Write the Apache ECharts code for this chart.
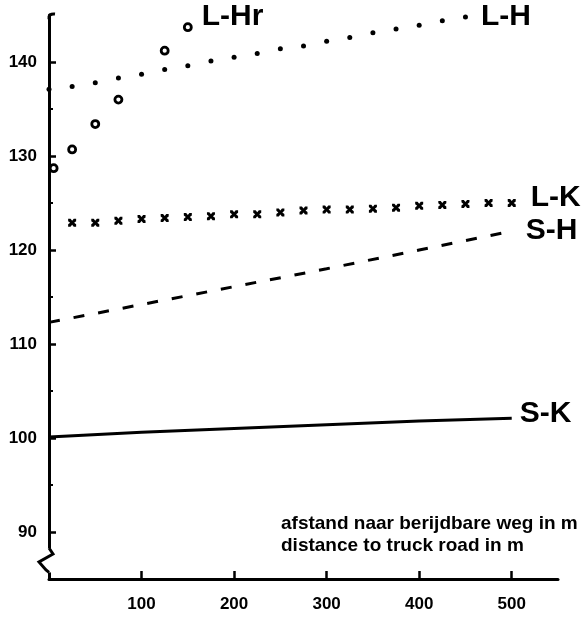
<!DOCTYPE html>
<html>
<head>
<meta charset="utf-8">
<title>afstand naar berijdbare weg</title>
<script src="https://cdn.jsdelivr.net/npm/echarts@6.0.0/dist/echarts.min.js"></script>
<style>
	html, body { margin: 0; padding: 0; background: #fff; }
	#chart { width: 584px; height: 617px; }
</style>
</head>
<body>
<div id="chart"></div>
<script>
// values: distance (m) against level
var lhDist  = [0, 25, 50, 75, 100, 125, 150, 175, 200, 225, 250, 275, 300, 325, 350, 375, 400, 425, 450];
var lhVal   = [137.1, 137.4, 137.8, 138.3, 138.7, 139.2, 139.6, 140.1, 140.5, 140.9, 141.4, 141.7, 142.2, 142.6, 143.1, 143.5, 143.9, 144.4, 144.8];

var lhrDist = [5, 25, 50, 75, 125, 150];
var lhrVal  = [128.7, 130.7, 133.4, 136.0, 141.2, 143.7];

var lkDist  = [25, 50, 75, 100, 125, 150, 175, 200, 225, 250, 275, 300, 325, 350, 375, 400, 425, 450, 475, 500];
var lkVal   = [122.9, 122.9, 123.1, 123.3, 123.4, 123.5, 123.6, 123.8, 123.8, 124.0, 124.2, 124.3, 124.3, 124.4, 124.5, 124.7, 124.8, 124.9, 125.0, 125.0];

var shDist  = [0, 100, 200, 300, 400, 500];
var shVal   = [112.3, 114.2, 116.1, 118.0, 120.0, 122.0];

var skDist  = [0, 100, 200, 300, 400, 500];
var skVal   = [100.1, 100.6, 101.0, 101.4, 101.8, 102.1];

var xTicks  = [100, 200, 300, 400, 500];
var yMajor  = [90, 100, 110, 120, 130, 140];
var yMinor  = [95, 105, 115, 125, 135];

var INK = '#000';
var crossPath = 'path://M0,0 L3,0 L5,2.5 L7,0 L10,0 L10,3 L7.5,5 L10,7 L10,10 L7,10 L5,7.5 L3,10 L0,10 L0,7 L2.5,5 L0,3 Z';

// name label for a curve
function nameLabel(text, dist, offset){
	return {
		show: true,
		position: 'right',
		distance: dist,
		offset: offset || [0, 0],
		formatter: text,
		color: INK,
		opacity: 1,
		fontFamily: 'Liberation Sans',
		fontWeight: 'bold',
		fontSize: 30
	};
}

// pairs of [x, y]; last point carries the curve name
function toPoints(xs, ys, label){
	var pts = [];
	for(var i = 0; i < xs.length; i++){
		if(i == xs.length - 1 && label){
			pts.push({value: [xs[i], ys[i]], label: label});
		} else {
			pts.push([xs[i], ys[i]]);
		}
	}
	return pts;
}

var tickFont = {color: INK, fontFamily: 'Liberation Sans', fontWeight: 'bold', fontSize: 17};

var chart = echarts.init(document.getElementById('chart'));

var option = {
	animation: false,
	backgroundColor: '#fff',
	grid: {left: 49, right: 26, top: 15, bottom: 38, containLabel: false, outerBoundsMode: 'none'},
	xAxis: {
		type: 'value',
		min: 0,
		max: 550,
		axisLine: {lineStyle: {color: INK, width: 3}},
		axisTick: {inside: true, length: 8, customValues: xTicks, lineStyle: {color: INK, width: 2.5}},
		axisLabel: Object.assign({customValues: xTicks, margin: 17}, tickFont),
		splitLine: {show: false}
	},
	yAxis: [{
		type: 'value',
		min: 85,
		max: 145,
		axisLine: {show: true, lineStyle: {color: INK, width: 3}},
		axisTick: {show: true, inside: true, length: 7, customValues: yMajor, lineStyle: {color: INK, width: 2.5}},
		axisLabel: Object.assign({customValues: yMajor, margin: 12}, tickFont),
		splitLine: {show: false}
	}, {
		// short ticks at the half steps
		type: 'value',
		min: 85,
		max: 145,
		position: 'left',
		axisLine: {show: false},
		axisTick: {show: true, inside: true, length: 4, customValues: yMinor, lineStyle: {color: INK, width: 2}},
		axisLabel: {show: false},
		splitLine: {show: false}
	}],
	series: [{
		name: 'L-H',
		type: 'scatter',
		symbol: 'circle',
		symbolSize: 5,
		itemStyle: {color: INK, opacity: 1},
		data: toPoints(lhDist, lhVal, nameLabel('L-H', 13))
	}, {
		name: 'L-Hr',
		type: 'scatter',
		symbol: 'circle',
		symbolSize: 7,
		itemStyle: {color: '#fff', borderColor: INK, borderWidth: 2.8, opacity: 1},
		data: toPoints(lhrDist, lhrVal, nameLabel('L-Hr', 9, [0, -10]))
	}, {
		name: 'L-K',
		type: 'scatter',
		symbol: crossPath,
		symbolSize: 8,
		itemStyle: {color: INK, opacity: 1},
		data: toPoints(lkDist, lkVal, nameLabel('L-K', 15, [0, -5]))
	}, {
		name: 'S-H',
		type: 'line',
		symbol: 'none',
		lineStyle: {color: INK, width: 3, type: [11, 14]},
		endLabel: nameLabel('S-H', 14),
		data: toPoints(shDist, shVal)
	}, {
		name: 'S-K',
		type: 'line',
		symbol: 'none',
		lineStyle: {color: INK, width: 3},
		endLabel: nameLabel('S-K', 8, [0, -5]),
		data: toPoints(skDist, skVal)
	}]
};
chart.setOption(option);

// axis break below 90, the hooked top of the y axis and the axis caption
var ax = chart.convertToPixel({gridIndex: 0}, [0, 88.3]);
var ay = chart.convertToPixel({gridIndex: 0}, [0, 85.7]);
var at = chart.convertToPixel({gridIndex: 0}, [0, 145]);
chart.setOption({
	graphic: [{
		id: 'caption',
		type: 'text',
		left: 281,
		top: 513,
		style: {
			text: 'afstand naar berijdbare weg in m\ndistance to truck road in m',
			fill: INK,
			font: 'bold 19px "Liberation Sans"',
			lineHeight: 22
		}
	}, {
		id: 'breakMask',
		type: 'rect',
		z: 100,
		shape: {x: ax[0] - 3, y: ax[1], width: 6, height: ay[1] - ax[1]},
		style: {fill: '#fff'}
	}, {
		id: 'breakZig',
		type: 'polyline',
		z: 101,
		shape: {points: [[ax[0], ax[1]], [ax[0] + 4, ax[1] + 6], [ax[0] - 10, ax[1] + 14], [ax[0] - 3, ax[1] + 22], [ax[0], ay[1]]]},
		style: {stroke: INK, lineWidth: 3, fill: null}
	}, {
		id: 'topHook',
		type: 'polyline',
		z: 101,
		shape: {points: [[at[0], at[1] + 4], [at[0] + 1, at[1]], [at[0] + 6, at[1] - 1]], smooth: 0.5},
		style: {stroke: INK, lineWidth: 3, fill: null}
	}]
});
</script>
</body>
</html>
